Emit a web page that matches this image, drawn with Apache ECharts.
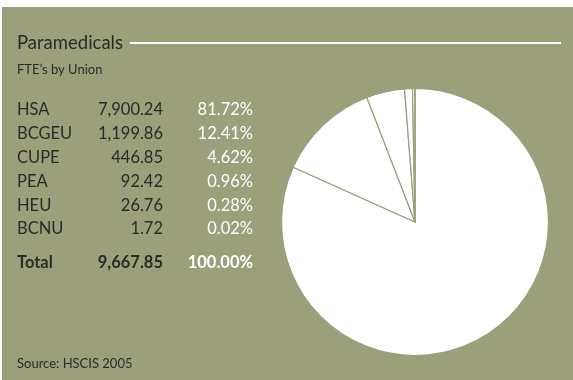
<!DOCTYPE html>
<html>
<head>
<meta charset="utf-8">
<script src="https://cdn.jsdelivr.net/npm/echarts@6/dist/echarts.min.js"></script>
<style>
html,body{margin:0;padding:0;background:#fff;}
#c{width:573px;height:380px;}
</style>
</head>
<body>
<div id="c"></div>
<script>
const unions = ['HSA','BCGEU','CUPE','PEA','HEU','BCNU'];
const fteValues = [7900.24, 1199.86, 446.85, 92.42, 26.76, 1.72];
const fteLabels = ['7,900.24','1,199.86','446.85','92.42','26.76','1.72'];
const pctLabels = ['81.72%','12.41%','4.62%','0.96%','0.28%','0.02%'];
const totalLabel = 'Total';
const totalValue = '9,667.85';
const totalPct = '100.00%';

const BG = '#9b9f7a';
const DARK = '#2b2b26';
const FONT = 'Lato, "Open Sans", sans-serif';

const chart = echarts.init(document.getElementById('c'));

const graphics = [
  {type:'rect', shape:{x:2,y:7,width:571,height:373}, style:{fill:BG}, z:-10, silent:true},
  {type:'text', x:17, y:43, style:{text:'Paramedicals', fill:DARK, font:'18.5px ' + FONT, verticalAlign:'middle'}},
  {type:'rect', shape:{x:130,y:42,width:431,height:2}, style:{fill:'#ffffff'}},
  {type:'text', x:17, y:70, style:{text:'FTE\u2019s by Union', fill:DARK, font:'13px ' + FONT, verticalAlign:'middle'}},
  {type:'text', x:17, y:364, style:{text:'Source: HSCIS 2005', fill:DARK, font:'13px ' + FONT, verticalAlign:'middle'}}
];
const rowY0 = 110, rowStep = 23.8;
const FS = '16.5px ';
unions.forEach((u,i)=>{
  const y = rowY0 + i*rowStep;
  graphics.push({type:'text', x:17, y:y, style:{text:u, fill:DARK, font:FS + FONT, verticalAlign:'middle', align:'left'}});
  graphics.push({type:'text', x:163, y:y, style:{text:fteLabels[i], fill:DARK, font:FS + FONT, verticalAlign:'middle', align:'right'}});
  graphics.push({type:'text', x:253, y:y, style:{text:pctLabels[i], fill:'#ffffff', font:FS + FONT, verticalAlign:'middle', align:'right'}});
});
graphics.push({type:'text', x:17, y:263, style:{text:totalLabel, fill:DARK, font:'bold ' + FS + FONT, verticalAlign:'middle', align:'left'}});
graphics.push({type:'text', x:163, y:263, style:{text:totalValue, fill:DARK, font:'bold ' + FS + FONT, verticalAlign:'middle', align:'right'}});
graphics.push({type:'text', x:253, y:263, style:{text:totalPct, fill:'#ffffff', font:'bold ' + FS + FONT, verticalAlign:'middle', align:'right'}});

chart.setOption({
  backgroundColor:'#ffffff',
  animation:false,
  graphic:{elements:graphics},
  series:[{
    type:'pie',
    center:[415,222],
    radius:[0,133.5],
    startAngle:90,
    clockwise:true,
    avoidLabelOverlap:false,
    label:{show:false},
    labelLine:{show:false},
    emphasis:{disabled:true},
    itemStyle:{color:'#ffffff', borderColor:BG, borderWidth:1.2},
    data: unions.map((u,i)=>({name:u, value:fteValues[i]}))
  }]
});
</script>
</body>
</html>
